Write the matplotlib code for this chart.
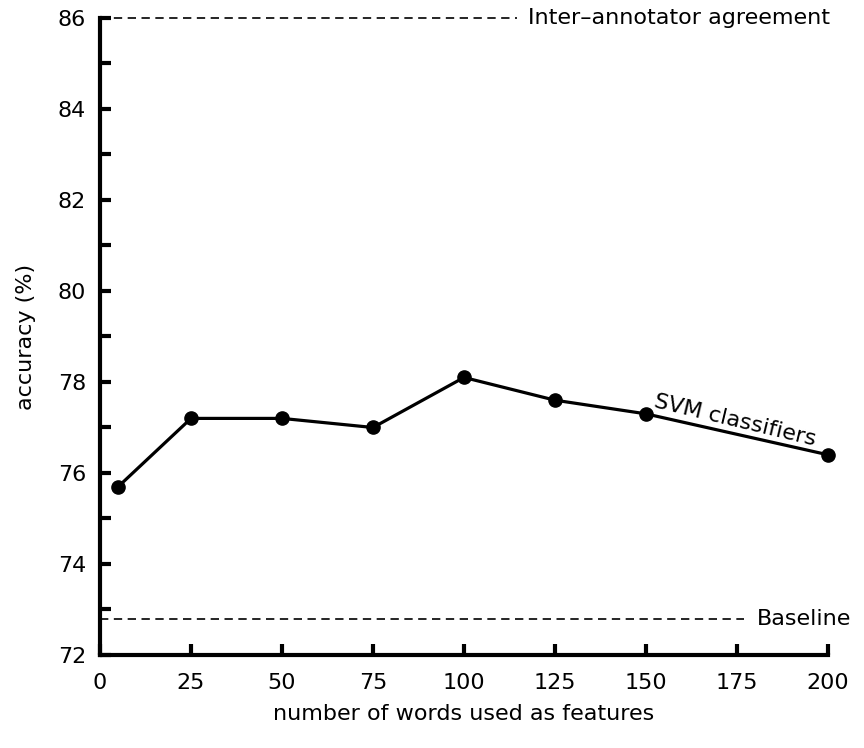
import matplotlib
matplotlib.use("Agg")
import matplotlib.pyplot as plt

words = [5, 25, 50, 75, 100, 125, 150, 200]
accuracy = [75.7, 77.2, 77.2, 77.0, 78.1, 77.6, 77.3, 76.4]
baseline = 72.8
agreement = 86.0
xticks = [0, 25, 50, 75, 100, 125, 150, 175, 200]

plt.rcParams['font.family'] = ['DejaVu Sans']

fig = plt.figure(figsize=(8.64, 7.48), dpi=100)
ax = fig.add_axes([100/864, 93/748, 728/864, 637/748])

ax.plot([0, 114.5], [agreement, agreement], color='black', lw=1.2, dashes=(5, 3.3),
        zorder=1, clip_on=False)
ax.text(117.5, agreement, 'Inter\u2013annotator agreement', fontsize=16, va='center', ha='left')
ax.plot([0, 177], [baseline, baseline], color='black', lw=1.2, dashes=(5, 3.3), zorder=1)
ax.text(180.5, baseline, 'Baseline', fontsize=16, va='center', ha='left')

ax.plot(words, accuracy, color='black', lw=2.3, marker='o', markersize=9.5, clip_on=False, zorder=3)
ax.text(174.5, 77.15, 'SVM classifiers', fontsize=16, rotation=-13.5,
        ha='center', va='center', rotation_mode='anchor')

ax.set_xlim(0, 200)
ax.set_ylim(72, 86)
ax.set_xticks(xticks)
ax.set_yticks([72, 74, 76, 78, 80, 82, 84, 86])
ax.set_yticks([73, 75, 77, 79, 81, 83, 85], minor=True)

for s in ['top', 'right']:
    ax.spines[s].set_visible(False)
for s in ['left', 'bottom']:
    ax.spines[s].set_linewidth(3)

ax.tick_params(axis='both', which='both', direction='in', length=8, width=3, labelsize=16)
ax.tick_params(axis='y', which='major', pad=10)
ax.tick_params(axis='x', which='major', pad=13)

ax.set_xlabel('number of words used as features', fontsize=16, labelpad=8)
ax.set_ylabel('accuracy (%)', fontsize=16, labelpad=16)

fig.savefig('out.png', dpi=100)
